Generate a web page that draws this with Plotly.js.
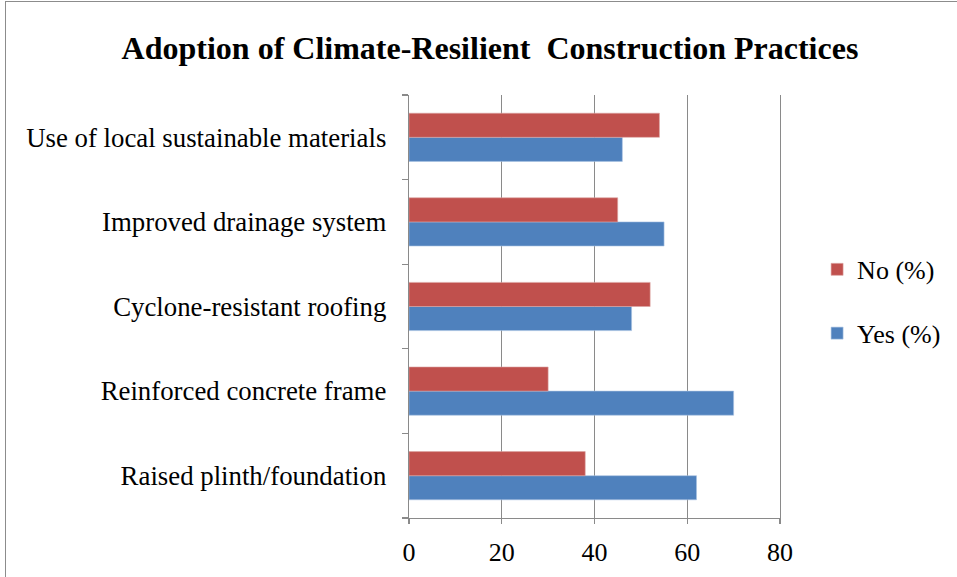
<!DOCTYPE html>
<html>
<head>
<meta charset="utf-8">
<script src="https://cdn.plot.ly/plotly-3.0.1.min.js"></script>
<style>
  html, body { margin: 0; padding: 0; background: #ffffff; }
  #frame { position: absolute; left: 5px; top: 1px; width: 960px; height: 580px;
           border-left: 1px solid #8c8c8c; border-top: 1px solid #8c8c8c; pointer-events: none; }
  #chart { position: absolute; left: 0; top: 0; width: 957px; height: 577px; }
</style>
</head>
<body>
<div id="chart"></div>
<div id="frame"></div>
<script>
// Categories listed bottom to top
const categories = [
  "Raised plinth/foundation",
  "Reinforced concrete frame",
  "Cyclone-resistant roofing",
  "Improved drainage system",
  "Use of local sustainable materials"
];
const yesValues = [62, 70, 48, 55, 46];
const noValues  = [38, 30, 52, 45, 54];
const seriesNames = ["Yes (%)", "No (%)"];
const xTicks = [0, 20, 40, 60, 80];

const FAM = "Liberation Serif";

const traces = [
  {
    type: "bar", orientation: "h", name: seriesNames[0],
    y: categories, x: yesValues, legendgroup: "yes", legendrank: 2,
    marker: { color: "#4F81BD", line: { color: "#a9c2e2", width: 0.6 } },
    hoverinfo: "x+y"
  },
  {
    type: "bar", orientation: "h", name: seriesNames[1],
    y: categories, x: noValues, legendgroup: "no", legendrank: 1,
    marker: { color: "#C0504D", line: { color: "#dca5a3", width: 0.6 } },
    hoverinfo: "x+y"
  }
];

const layout = {
  width: 957, height: 577,
  margin: { l: 409, r: 177, t: 95, b: 59, pad: 0, autoexpand: false },
  paper_bgcolor: "#ffffff", plot_bgcolor: "#ffffff",
  font: { family: FAM, size: 26, color: "#000000" },
  title: {
    text: "<b>Adoption of Climate-Resilient  Construction Practices</b>",
    font: { family: FAM, size: 32, color: "#000000" },
    x: 0.512, xanchor: "center", y: 0.918, yanchor: "middle", xref: "container", yref: "container"
  },
  barmode: "group", bargap: 0.43, bargroupgap: 0,
  xaxis: {
    range: [0, 80], tickvals: xTicks, ticktext: xTicks.map(String),
    showgrid: true, gridcolor: "#8a8a8a", gridwidth: 1.3,
    showline: true, linecolor: "#8a8a8a", linewidth: 1.3,
    ticks: "outside", ticklen: 5, tickcolor: "#8a8a8a", tickwidth: 1.3,
    ticklabelstandoff: 5,
    zeroline: false, fixedrange: true, automargin: false,
    tickfont: { family: FAM, size: 26, color: "#000000" }
  },
  yaxis: {
    type: "category", categoryorder: "array", categoryarray: categories,
    showgrid: false, showline: true, mirror: true, linecolor: "#8a8a8a", linewidth: 1.3,
    ticks: "outside", tickson: "boundaries", ticklen: 6, tickcolor: "#8a8a8a", tickwidth: 1.3,
    ticklabelstandoff: 16, fixedrange: true, automargin: false,
    tickfont: { family: FAM, size: 26.8, color: "#000000" }
  },
  showlegend: true,
  legend: {
    x: 1.1, xanchor: "left", y: 0.512, yanchor: "middle",
    traceorder: "grouped", tracegroupgap: 27,
    font: { family: FAM, size: 26, color: "#000000" },
    bgcolor: "rgba(0,0,0,0)"
  }
};

Plotly.newPlot("chart", traces, layout, { displayModeBar: false, staticPlot: true });
</script>
</body>
</html>
